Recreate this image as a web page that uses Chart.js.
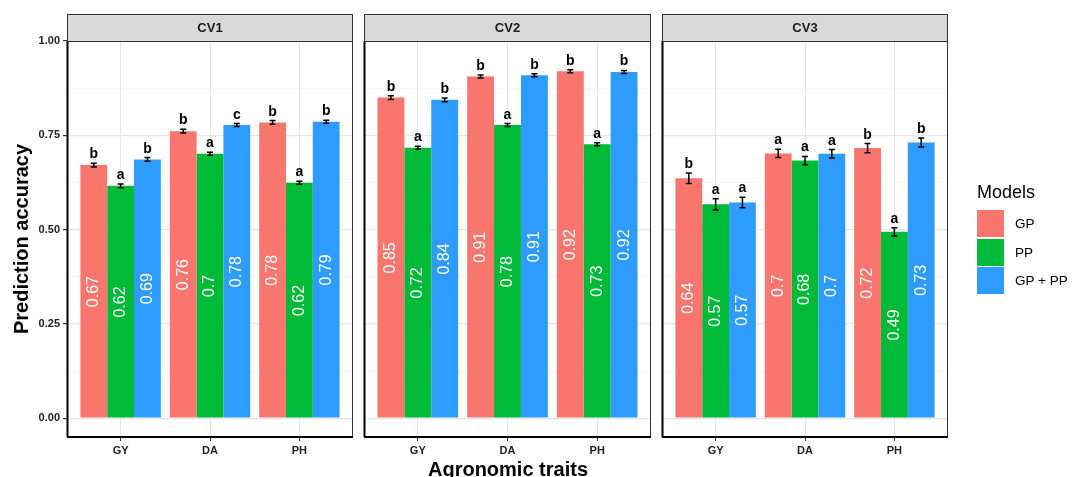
<!DOCTYPE html>
<html>
<head>
<meta charset="utf-8">
<script src="https://cdn.jsdelivr.net/npm/chart.js@4/dist/chart.umd.min.js"></script>
<style>
  body { margin: 0; background: #fff; font-family: 'Liberation Sans', Arial, sans-serif; }
  #wrap { position: relative; width: 1072px; height: 477px; overflow: hidden; }
  canvas { position: absolute; left: 0; top: 0; }
  #xtitle { position: absolute; left: 308px; width: 400px; top: 457px; line-height: 24px;
            text-align: center; font-weight: bold; font-size: 20px; color: #000; }
  #legend { position: absolute; left: 977px; top: 181px; }
  #legend .ttl { font-size: 18px; line-height: 22px; height: 28px; color: #000; }
  #legend .row { height: 28.7px; display: flex; align-items: center; }
  #legend .key { width: 27px; height: 27px; margin-right: 11px; }
  #legend .lab { font-size: 13.5px; color: #000; }
</style>
</head>
<body>
<div id="wrap">
  <canvas id="cv1" width="1072" height="477"></canvas>
  <canvas id="cv2" width="1072" height="477"></canvas>
  <canvas id="cv3" width="1072" height="477"></canvas>
  <div id="xtitle">Agronomic traits</div>
  <div id="legend"></div>
</div>
<script>
// Facets, traits and models
const panels = ['CV1', 'CV2', 'CV3'];
const traits = ['GY', 'DA', 'PH'];
const models = ['GP', 'PP', 'GP + PP'];
const yTicks = [0, 0.125, 0.25, 0.375, 0.5, 0.625, 0.75, 0.875, 1];

// Prediction accuracy per trait (GY, DA, PH)
const cv1GP = [0.671, 0.761, 0.784];
const cv1PP = [0.616, 0.701, 0.624];
const cv1GPPP = [0.686, 0.777, 0.786];
const cv2GP = [0.850, 0.906, 0.920];
const cv2PP = [0.717, 0.777, 0.726];
const cv2GPPP = [0.844, 0.909, 0.918];
const cv3GP = [0.636, 0.702, 0.716];
const cv3PP = [0.567, 0.683, 0.494];
const cv3GPPP = [0.572, 0.701, 0.731];

// Standard errors
const cv1GPErr = [0.005, 0.005, 0.005];
const cv1PPErr = [0.005, 0.004, 0.004];
const cv1GPPPErr = [0.005, 0.004, 0.004];
const cv2GPErr = [0.005, 0.004, 0.004];
const cv2PPErr = [0.004, 0.004, 0.004];
const cv2GPPPErr = [0.005, 0.004, 0.004];
const cv3GPErr = [0.014, 0.011, 0.012];
const cv3PPErr = [0.015, 0.011, 0.011];
const cv3GPPPErr = [0.014, 0.011, 0.012];

// Significance letters
const cv1GPSig = ['b', 'b', 'b'];
const cv1PPSig = ['a', 'a', 'a'];
const cv1GPPPSig = ['b', 'c', 'b'];
const cv2GPSig = ['b', 'b', 'b'];
const cv2PPSig = ['a', 'a', 'a'];
const cv2GPPPSig = ['b', 'b', 'b'];
const cv3GPSig = ['b', 'a', 'b'];
const cv3PPSig = ['a', 'a', 'a'];
const cv3GPPPSig = ['a', 'a', 'b'];

const colors = ['#F8766D', '#00BA38', '#2E9BFF'];
const font = "'Liberation Sans', Arial, sans-serif";

const facetData = {
    CV1: { vals: [cv1GP, cv1PP, cv1GPPP], errs: [cv1GPErr, cv1PPErr, cv1GPPPErr], sig: [cv1GPSig, cv1PPSig, cv1GPPPSig] },
    CV2: { vals: [cv2GP, cv2PP, cv2GPPP], errs: [cv2GPErr, cv2PPErr, cv2GPPPErr], sig: [cv2GPSig, cv2PPSig, cv2GPPPSig] },
    CV3: { vals: [cv3GP, cv3PP, cv3GPPP], errs: [cv3GPErr, cv3PPErr, cv3GPPPErr], sig: [cv3GPSig, cv3PPSig, cv3GPPPSig] }
};

// panel edges in the page
const panelBox = [[67, 353], [364, 651], [662, 948]];

// strip, border, error bars and text on the bars
const facetPlugin = {
    id: 'facet',
    afterDatasetsDraw(chart) {
        const ctx = chart.ctx;
        const y = chart.scales.y;
        ctx.save();
        chart.data.datasets.forEach((ds, di) => {
            const meta = chart.getDatasetMeta(di);
            meta.data.forEach((bar, j) => {
                const v = ds.data[j].y;
                const e = ds.err[j];
                // value label, rotated, at half height
                ctx.save();
                ctx.translate(bar.x, y.getPixelForValue(v / 2));
                ctx.rotate(-Math.PI / 2);
                ctx.fillStyle = '#fff';
                ctx.font = '16px ' + font;
                ctx.textAlign = 'center';
                ctx.textBaseline = 'middle';
                ctx.fillText(String(Math.round(v * 100) / 100), 0, 0);
                ctx.restore();
                // error bar
                const yt = y.getPixelForValue(v + e);
                const yb = y.getPixelForValue(v - e);
                ctx.strokeStyle = '#000';
                ctx.lineWidth = 1.5;
                ctx.beginPath();
                ctx.moveTo(bar.x, yt); ctx.lineTo(bar.x, yb);
                ctx.moveTo(bar.x - 3, yt); ctx.lineTo(bar.x + 3, yt);
                ctx.moveTo(bar.x - 3, yb); ctx.lineTo(bar.x + 3, yb);
                ctx.stroke();
                // letter
                ctx.fillStyle = '#000';
                ctx.font = 'bold 14px ' + font;
                ctx.textAlign = 'center';
                ctx.textBaseline = 'alphabetic';
                ctx.fillText(ds.sig[j], bar.x, yt - 5);
            });
        });
        ctx.restore();
    },
    afterDraw(chart, args, opts) {
        const ctx = chart.ctx;
        const a = chart.chartArea;
        ctx.save();
        ctx.strokeStyle = '#333';
        ctx.lineWidth = 1;
        ctx.strokeRect(a.left + 0.5, a.top + 0.5, a.width - 1, a.height - 1);
        ctx.strokeStyle = '#000';
        ctx.lineWidth = 2;
        ctx.beginPath();
        ctx.moveTo(a.left, a.bottom); ctx.lineTo(a.right, a.bottom);
        ctx.moveTo(a.left + 0.5, a.top); ctx.lineTo(a.left + 0.5, a.bottom);
        ctx.stroke();
        // strip
        ctx.fillStyle = '#d9d9d9';
        ctx.fillRect(a.left, 14, a.width, a.top - 14);
        ctx.strokeStyle = '#333';
        ctx.lineWidth = 1;
        ctx.strokeRect(a.left + 0.5, 14.5, a.width - 1, a.top - 14);
        ctx.fillStyle = '#1a1a1a';
        ctx.font = 'bold 13px ' + font;
        ctx.textAlign = 'center';
        ctx.textBaseline = 'middle';
        ctx.fillText(opts.title, (a.left + a.right) / 2, (14 + a.top) / 2 + 1);
        ctx.restore();
    }
};

panels.forEach((p, pi) => {
    const d = facetData[p];
    const first = pi === 0;
    new Chart(document.getElementById(p.toLowerCase()).getContext('2d'), {
        type: 'bar',
        data: {
            datasets: models.map((m, mi) => ({
                label: m,
                data: d.vals[mi].map((v, i) => ({ x: i + 1, y: v })),
                err: d.errs[mi],
                sig: d.sig[mi],
                backgroundColor: colors[mi],
                borderWidth: 0,
                categoryPercentage: 0.9,
                barPercentage: 1
            }))
        },
        options: {
            responsive: false,
            animation: false,
            events: [],
            layout: { padding: { left: first ? 0 : panelBox[pi][0], right: 1072 - panelBox[pi][1], top: 41, bottom: 0 } },
            plugins: { legend: { display: false }, tooltip: { enabled: false }, facet: { title: p } },
            scales: {
                x: {
                    type: 'linear',
                    min: 0.4, max: 3.6,
                    offset: false,
                    afterBuildTicks: s => { s.ticks = traits.map((t, i) => ({ value: i + 1 })); },
                    afterFit: s => { s.height = 40; },
                    ticks: {
                        autoSkip: false, maxRotation: 0, padding: 3,
                        callback: v => traits[v - 1],
                        color: '#222', font: { family: font, size: 11, weight: 'bold' }
                    },
                    grid: { color: '#e6e6e6', lineWidth: 1, tickLength: 4, tickColor: '#333', offset: false },
                    border: { display: false }
                },
                y: {
                    min: -0.05, max: 1,
                    afterBuildTicks: s => { s.ticks = yTicks.map(v => ({ value: v })); },
                    afterFit: s => { s.width = first ? 67 : 0; },
                    ticks: {
                        display: first, autoSkip: false, padding: 3,
                        callback: v => (v * 4) % 1 === 0 ? v.toFixed(2) : '',
                        color: '#222', font: { family: font, size: 11, weight: 'bold' }
                    },
                    grid: {
                        drawTicks: first,
                        tickLength: 4,
                        color: c => (c.tick && (c.tick.value * 4) % 1 === 0) ? '#e6e6e6' : '#f2f2f2',
                        lineWidth: c => (c.tick && (c.tick.value * 4) % 1 === 0) ? 1.2 : 0.8,
                        tickColor: c => (c.tick && (c.tick.value * 4) % 1 === 0) ? '#333' : 'rgba(0,0,0,0)'
                    },
                    border: { display: false },
                    title: {
                        display: first,
                        text: 'Prediction accuracy',
                        color: '#000',
                        font: { family: font, size: 20, weight: 'bold' },
                        padding: { top: 10, bottom: 0 }
                    }
                }
            }
        },
        plugins: [facetPlugin]
    });
});

// legend
const legend = document.getElementById('legend');
legend.innerHTML = '<div class="ttl">Models</div>' + models.map((m, i) =>
    '<div class="row"><div class="key" style="background:' + colors[i] + '"></div><div class="lab">' + m + '</div></div>').join('');
</script>
</body>
</html>
